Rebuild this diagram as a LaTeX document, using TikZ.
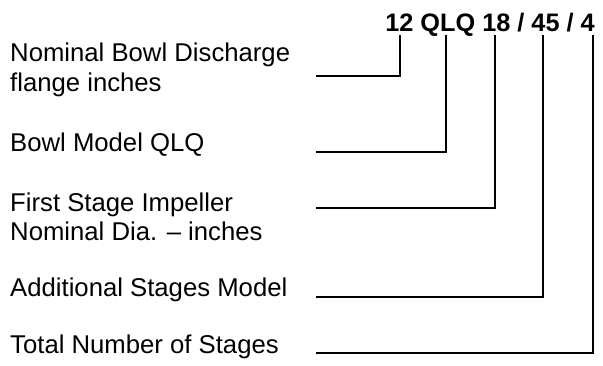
\documentclass[tikz,border=0pt]{standalone}
\usepackage{fontspec}
\setmainfont{Liberation Sans}
\usepackage{tikz}
\tikzstyle{desc}=[anchor=base west,inner sep=0pt,font=\fontsize{25.7}{30}\selectfont]
\tikzstyle{lead}=[line width=2pt]

\begin{document}
\begin{tikzpicture}[x=1pt,y=1pt]
\useasboundingbox (0,0) rectangle (603,365);
  \node[anchor=base east,inner sep=0pt,font=\fontsize{25.3}{30}\selectfont\bfseries] (code) at (595,333.5) {12 QLQ 18 / 45 / 4};
  \node[desc] (nom) at (10,303.3) {Nominal Bowl Discharge};
  \node[desc] (nom2) at (10,273.3) {flange inches};
  \node[desc] (bowl) at (10,213.3) {Bowl Model QLQ};
  \node[desc] (first) at (10,154) {First Stage Impeller};
  \node[desc] (first2) at (10,124.5) {Nominal Dia. -- inches};
  \node[desc] (add) at (10,68.3) {Additional Stages Model};
  \node[desc] (total) at (10,11.7) {Total Number of Stages};
  \foreach \y/\name in {289/s1,213/s2,157/s3,68/s4,12/s5}
    \coordinate (\name) at (316,\y);
  \foreach \x/\name in {400/t1,446/t2,495/t3,543/t4,593/t5}
    \coordinate (\name) at (\x,330);
  \foreach \source/\dest in {s1/t1,s2/t2,s3/t3,s4/t4,s5/t5}
      \draw[lead] (\source) -| (\dest);
\end{tikzpicture}
\end{document}
